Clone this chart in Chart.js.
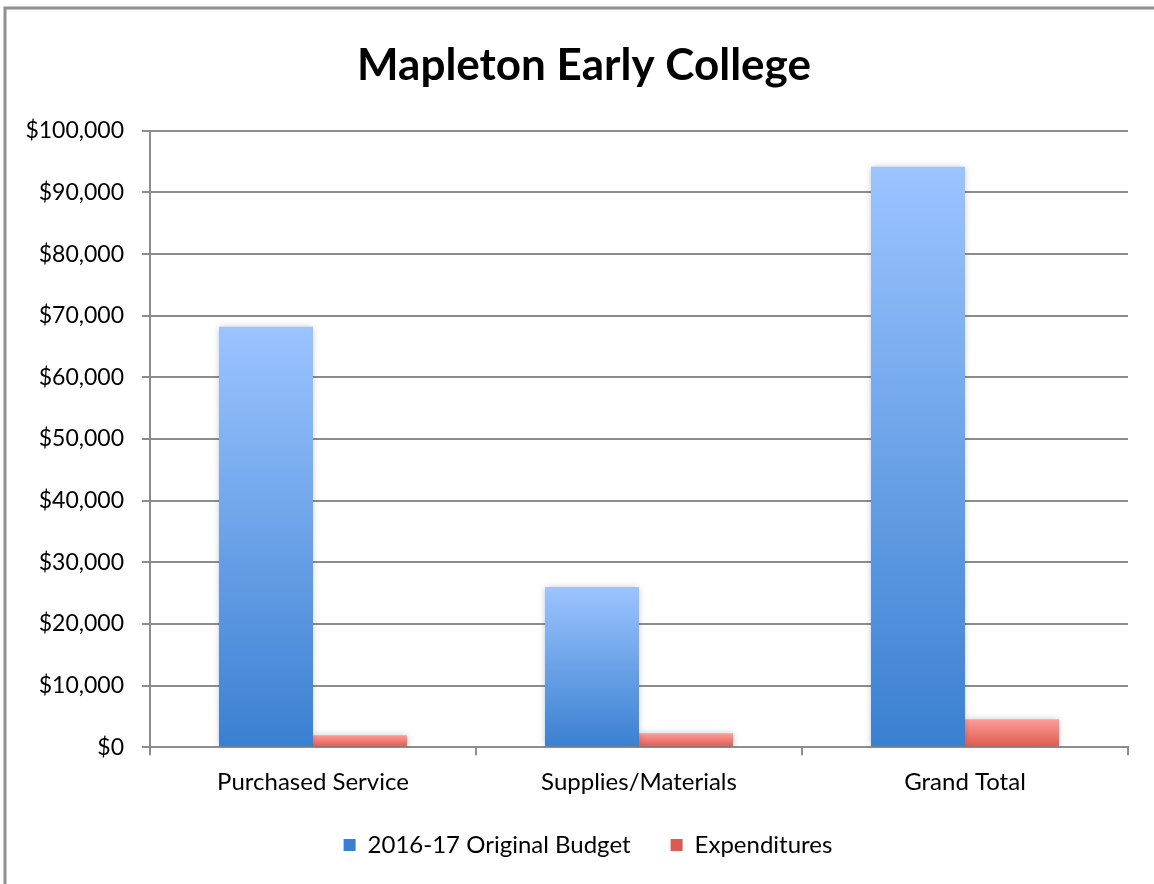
<!DOCTYPE html>
<html>
<head>
<meta charset="utf-8">
<title>Mapleton Early College</title>
<script src="https://cdn.jsdelivr.net/npm/chart.js@4.4.1/dist/chart.umd.min.js"></script>
<style>
  html, body { margin: 0; padding: 0; background: #fff; }
  #wrap { position: relative; width: 1154px; height: 884px; }
</style>
</head>
<body>
<div id="wrap"><canvas id="budgetChart"></canvas></div>
<script>
  // data
  const categories = ["Purchased Service", "Supplies/Materials", "Grand Total"];
  const budget = [68200, 26000, 94150];
  const expenditures = [1950, 2270, 4550];
  const seriesNames = ["2016-17 Original Budget", "Expenditures"];

  const GRID = "#8c8c8c";
  const FONT = "Lato, 'Open Sans', sans-serif";

  // vertical gradient per bar, from the bar's top down to zero
  function barFill(topColor, bottomColor, flat) {
    return function (ctx) {
      if (ctx.type !== "data" || !ctx.chart.chartArea) return flat;
      const y = ctx.chart.scales.y;
      const top = y.getPixelForValue(ctx.parsed.y);
      const bottom = y.getPixelForValue(0);
      const g = ctx.chart.ctx.createLinearGradient(0, top, 0, bottom);
      g.addColorStop(0, topColor);
      g.addColorStop(1, bottomColor);
      return g;
    };
  }

  const barShadow = {
    id: "barShadow",
    beforeDatasetsDraw(chart) {
      const c = chart.ctx;
      c.save();
      c.shadowColor = "rgba(0,0,0,0.22)";
      c.shadowBlur = 7;
    },
    afterDatasetsDraw(chart) {
      chart.ctx.restore();
    }
  };

  // nudge title and legend: excel centres them a bit right, and the legend
  // sits closer to the axis labels than chart.js's padding allows
  const nudge = {
    id: "nudge",
    afterLayout(chart) {
      const t = chart.titleBlock, l = chart.legend;
      t.left += 20; t.right += 20;
      l.left += 24; l.right += 24;
      l.top -= 17; l.bottom -= 17;
    }
  };

  // the outer frame, only left and top edges show in the picture
  const frame = {
    id: "frame",
    afterDraw(chart) {
      const c = chart.ctx;
      c.save();
      c.strokeStyle = "#909090";
      c.lineWidth = 3;
      c.beginPath();
      c.moveTo(5, chart.height);
      c.lineTo(5, 8);
      c.lineTo(chart.width, 8);
      c.stroke();
      c.restore();
    }
  };

  new Chart(document.getElementById("budgetChart"), {
    type: "bar",
    data: {
      labels: categories,
      datasets: [{
        label: seriesNames[0],
        data: budget,
        backgroundColor: barFill("#9cc4ff", "#3a80d1", "#76abf2"),
        categoryPercentage: 0.577,
        barPercentage: 1.0
      }, {
        label: seriesNames[1],
        data: expenditures,
        backgroundColor: barFill("#ff9d9a", "#dc5a4f", "#f4807a"),
        categoryPercentage: 0.577,
        barPercentage: 1.0
      }]
    },
    plugins: [barShadow, nudge, frame],
    options: {
      responsive: true,
      maintainAspectRatio: false,
      animation: false,
      layout: { padding: { left: 0, right: 26, top: 12, bottom: 0 } },
      scales: {
        x: {
          grid: {
            offset: true,
            drawOnChartArea: false,
            drawTicks: true,
            tickLength: 8,
            color: GRID,
            lineWidth: 2
          },
          border: { color: GRID, width: 2 },
          ticks: {
            color: "#000",
            font: { family: FONT, size: 24 },
            padding: 13
          }
        },
        y: {
          min: 0,
          max: 100000,
          afterFit(scale) { scale.width = 150; },
          grid: { color: GRID, lineWidth: 2, tickLength: 8 },
          border: { color: GRID, width: 2 },
          ticks: {
            stepSize: 10000,
            color: "#000",
            font: { family: FONT, size: 23 },
            padding: 18,
            callback: v => "$" + v.toLocaleString("en-US")
          }
        }
      },
      plugins: {
        title: {
          display: true,
          text: "Mapleton Early College",
          color: "#000",
          font: { family: FONT, size: 44, weight: "bold" },
          padding: { top: 27, bottom: 39 }
        },
        legend: {
          position: "bottom",
          labels: {
            color: "#000",
            boxWidth: 12,
            boxHeight: 12,
            padding: 40,
            font: { family: FONT, size: 24 }
          }
        },
        tooltip: { enabled: false }
      }
    }
  });
</script>
</body>
</html>
